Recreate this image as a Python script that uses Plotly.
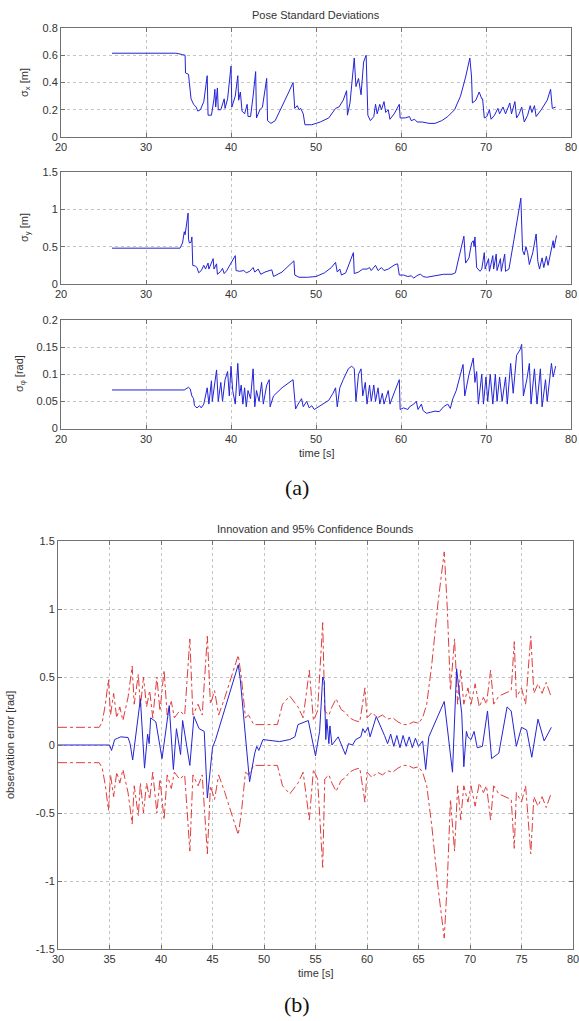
import plotly.graph_objects as go

W, H = 579, 1021

# ---------------- (a) Pose standard deviations ----------------
t_sx = [26.0, 33.5, 34.3, 34.6, 34.65, 35.0, 35.1, 35.3, 35.6, 35.9, 36.1, 36.4, 36.8, 37.2, 37.3, 37.7,
        38.0, 38.1, 38.2, 38.4, 38.5, 38.8, 39.2, 39.3, 39.6, 40.0, 40.1, 40.5, 40.8, 40.9, 41.1, 41.3,
        41.6, 41.9, 42.0, 42.3, 42.6, 42.9, 43.0, 43.4, 43.7, 44.2, 44.3, 44.7, 45.2, 46.0, 46.8, 47.3,
        47.5, 47.8, 48.0, 48.2, 48.5, 48.7, 49.5, 50.5, 51.5, 52.3, 52.7, 53.2, 53.6, 53.7, 54.0, 54.5,
        54.7, 55.0, 55.3, 55.6, 55.9, 56.1, 56.4, 56.8, 57.0, 57.2, 57.5, 57.7, 58.0, 58.2, 58.5, 58.7,
        59.2, 59.8, 59.9, 60.5, 61.0, 61.2, 61.6, 61.9, 62.5, 63.3, 64.0, 64.8, 65.5, 66.3, 67.0, 67.6,
        68.1, 68.3, 68.4, 68.8, 69.2, 69.5, 69.6, 69.8, 70.1, 70.4, 70.6, 71.0, 71.4, 71.6, 72.0, 72.3,
        72.8, 73.0, 73.4, 73.6, 73.9, 74.2, 74.5, 74.9, 75.2, 75.4, 75.7, 75.9, 76.5, 77.2, 77.6, 77.8, 78.2]
sigma_x = [0.615, 0.615, 0.605, 0.60, 0.47, 0.46, 0.40, 0.28, 0.24, 0.22, 0.19, 0.20, 0.26, 0.45, 0.16, 0.16,
           0.28, 0.35, 0.22, 0.36, 0.20, 0.20, 0.28, 0.21, 0.28, 0.52, 0.22, 0.30, 0.45, 0.27, 0.33, 0.19,
           0.17, 0.24, 0.15, 0.15, 0.30, 0.48, 0.14, 0.20, 0.22, 0.43, 0.12, 0.10, 0.12, 0.22, 0.33, 0.40,
           0.21, 0.23, 0.20, 0.21, 0.17, 0.09, 0.09, 0.11, 0.14, 0.21, 0.22, 0.27, 0.34, 0.16, 0.25, 0.58,
           0.37, 0.43, 0.31, 0.55, 0.60, 0.16, 0.12, 0.15, 0.24, 0.17, 0.24, 0.20, 0.26, 0.18, 0.20, 0.13,
           0.17, 0.24, 0.14, 0.14, 0.15, 0.12, 0.13, 0.11, 0.11, 0.10, 0.10, 0.12, 0.15, 0.20, 0.30, 0.44,
           0.58, 0.44, 0.25, 0.27, 0.33, 0.28, 0.28, 0.14, 0.15, 0.20, 0.13, 0.16, 0.21, 0.17, 0.22, 0.17,
           0.25, 0.17, 0.26, 0.14, 0.17, 0.22, 0.11, 0.16, 0.23, 0.18, 0.23, 0.15, 0.20, 0.27, 0.35, 0.21, 0.22]

t_sy = [26.0, 34.0, 34.3, 34.5, 34.6, 34.8, 34.95, 35.0, 35.1, 35.3, 35.4, 35.5, 35.8, 36.0, 36.2, 36.5,
        36.8, 37.0, 37.3, 37.4, 37.7, 37.9, 38.0, 38.3, 38.4, 38.8, 39.0, 39.2, 39.5, 40.0, 40.5, 40.6,
        41.0, 41.5, 41.8, 42.2, 42.6, 42.8, 43.2, 43.5, 44.0, 44.8, 45.0, 46.0, 47.0, 47.4, 47.5, 48.0,
        49.0, 50.0, 51.0, 51.8, 52.3, 52.5, 52.8, 53.0, 53.5, 54.0, 54.4, 54.5, 55.0, 55.5, 56.0, 56.3,
        56.5, 57.0, 57.3, 57.7, 58.0, 58.5, 59.0, 59.3, 59.6, 59.8, 60.3, 60.8, 61.2, 61.5, 62.0, 62.3,
        62.6, 63.0, 64.0, 65.0, 66.0, 66.4, 66.8, 67.2, 67.4, 67.6, 68.0, 68.3, 68.5, 68.6, 68.7, 68.9,
        69.3, 69.5, 69.8, 69.9, 70.3, 70.4, 70.8, 70.9, 71.2, 71.3, 71.7, 71.8, 72.2, 72.3, 72.7, 73.3,
        73.7, 74.1, 74.3, 74.5, 74.7, 74.9, 75.1, 75.5, 75.9, 76.1, 76.3, 76.6, 76.8, 77.1, 77.3, 77.7,
        77.9, 78.0, 78.3]
sigma_y = [0.48, 0.48, 0.55, 0.70, 0.66, 0.80, 0.95, 0.60, 0.55, 0.56, 0.63, 0.25, 0.24, 0.22, 0.15, 0.18,
           0.25, 0.20, 0.28, 0.20, 0.30, 0.34, 0.20, 0.27, 0.13, 0.17, 0.21, 0.14, 0.18, 0.28, 0.38, 0.18,
           0.17, 0.18, 0.15, 0.17, 0.22, 0.16, 0.20, 0.13, 0.16, 0.19, 0.10, 0.16, 0.26, 0.31, 0.12, 0.09,
           0.09, 0.10, 0.15, 0.22, 0.29, 0.16, 0.20, 0.12, 0.15, 0.30, 0.42, 0.14, 0.16, 0.20, 0.20, 0.22,
           0.18, 0.25, 0.18, 0.22, 0.18, 0.20, 0.24, 0.26, 0.27, 0.12, 0.12, 0.10, 0.11, 0.08, 0.12, 0.13,
           0.10, 0.09, 0.11, 0.13, 0.13, 0.15, 0.35, 0.55, 0.64, 0.28, 0.35, 0.55, 0.58, 0.50, 0.63, 0.22,
           0.17, 0.20, 0.42, 0.20, 0.34, 0.17, 0.38, 0.20, 0.40, 0.18, 0.34, 0.17, 0.40, 0.17, 0.20, 0.60,
           0.85, 1.15, 0.45, 0.39, 0.50, 0.42, 0.26, 0.42, 0.67, 0.30, 0.20, 0.35, 0.22, 0.37, 0.25, 0.45,
           0.58, 0.48, 0.65]

t_sp = [26.0, 34.5, 35.0, 35.2, 35.4, 35.6, 35.7, 36.0, 36.3, 36.5, 36.8, 37.2, 37.4, 37.7, 37.8, 38.1,
        38.3, 38.5, 38.8, 39.0, 39.3, 39.6, 39.8, 40.0, 40.2, 40.5, 40.8, 41.0, 41.2, 41.4, 41.6, 41.8,
        42.0, 42.3, 42.6, 42.8, 43.0, 43.3, 43.6, 43.8, 44.2, 44.5, 44.6, 45.0, 46.0, 47.3, 47.6, 47.9,
        48.3, 48.5, 48.9, 49.2, 49.5, 49.8, 50.5, 51.2, 51.5, 52.0, 52.3, 52.5, 52.8, 53.2, 53.8, 54.2,
        54.5, 54.7, 55.0, 55.3, 55.5, 55.8, 56.0, 56.3, 56.5, 56.8, 57.0, 57.3, 57.5, 57.8, 58.0, 58.5,
        58.7, 59.3, 59.8, 59.9, 60.3, 60.8, 61.0, 61.5, 61.8, 62.0, 62.4, 62.6, 63.0, 63.5, 64.0, 64.5,
        65.0, 65.5, 65.8, 66.1, 66.5, 67.0, 67.3, 67.5, 68.0, 68.5, 68.7, 68.9, 69.1, 69.5, 69.7, 70.0,
        70.2, 70.5, 70.8, 71.1, 71.3, 71.6, 71.9, 72.3, 72.5, 72.9, 73.2, 73.6, 74.0, 74.2, 74.4, 74.8,
        75.1, 75.3, 75.7, 76.0, 76.4, 76.6, 77.0, 77.2, 77.7, 77.9, 78.2]
sigma_phi = [0.071, 0.071, 0.076, 0.073, 0.060, 0.055, 0.042, 0.038, 0.042, 0.038, 0.045, 0.075, 0.045, 0.088, 0.050, 0.080,
             0.108, 0.050, 0.085, 0.050, 0.090, 0.105, 0.060, 0.115, 0.070, 0.045, 0.120, 0.060, 0.080, 0.045, 0.075, 0.040,
             0.070, 0.055, 0.110, 0.040, 0.070, 0.050, 0.085, 0.045, 0.080, 0.090, 0.040, 0.060, 0.075, 0.090, 0.036, 0.045,
             0.055, 0.040, 0.050, 0.038, 0.042, 0.035, 0.042, 0.050, 0.052, 0.065, 0.075, 0.040, 0.075, 0.090, 0.110, 0.115,
             0.110, 0.050, 0.100, 0.110, 0.060, 0.085, 0.045, 0.080, 0.050, 0.080, 0.050, 0.075, 0.045, 0.065, 0.045, 0.070,
             0.045, 0.070, 0.090, 0.035, 0.038, 0.035, 0.040, 0.045, 0.050, 0.035, 0.045, 0.033, 0.028, 0.030, 0.032, 0.031,
             0.040, 0.045, 0.037, 0.055, 0.070, 0.100, 0.118, 0.060, 0.100, 0.130, 0.085, 0.105, 0.045, 0.100, 0.045, 0.095,
             0.050, 0.100, 0.045, 0.100, 0.050, 0.095, 0.050, 0.095, 0.045, 0.120, 0.065, 0.135, 0.145, 0.155, 0.060, 0.090,
             0.120, 0.045, 0.110, 0.045, 0.110, 0.040, 0.090, 0.050, 0.120, 0.095, 0.115]

# ---------------- (b) Innovation and 95% confidence bounds ----------------
t_innov = [30.0, 35.0, 35.2, 35.5, 35.8, 36.1, 36.8, 37.0, 37.25, 38.0, 38.4, 38.7, 38.85, 39.0, 39.5, 40.1,
           40.8, 41.2, 41.5, 41.9, 42.1, 42.8, 43.2, 43.7, 44.2, 44.5, 45.0, 45.3, 47.5, 47.7, 48.6, 49.1,
           49.3, 49.5, 49.9, 51.5, 52.5, 53.0, 53.3, 54.3, 55.0, 55.4, 55.7, 55.85, 56.0, 56.1, 56.3, 56.4,
           56.6, 57.2, 57.9, 58.2, 58.6, 58.9, 59.4, 59.6, 59.8, 60.1, 60.3, 60.9, 61.7, 62.0, 62.3, 62.6,
           62.9, 63.2, 63.5, 63.8, 64.1, 64.4, 64.7, 65.0, 65.4, 65.7, 66.0, 67.5, 68.3, 68.7, 69.2, 69.4,
           69.65, 69.8, 70.1, 70.4, 70.7, 71.2, 71.7, 72.1, 72.8, 73.6, 74.0, 74.5, 75.0, 75.5, 76.0, 76.6,
           77.2, 77.9]
innovation = [0.0, 0.0, -0.04, 0.04, 0.05, 0.06, 0.055, 0.01, -0.11, 0.34, -0.17, 0.08, 0.01, 0.20, 0.17, -0.10,
              0.29, -0.18, 0.12, -0.07, 0.18, -0.15, 0.21, 0.12, 0.10, -0.39, -0.02, 0.04, 0.59, 0.48, -0.27, -0.06,
              -0.01, -0.04, 0.04, 0.025, 0.04, 0.06, 0.15, 0.18, -0.08, 0.10, 0.50, 0.47, 0.04, 0.19, 0.01, 0.14,
              0.00, 0.06, -0.07, 0.01, 0.00, 0.04, 0.06, 0.12, 0.09, 0.13, 0.06, 0.21, 0.07, 0.01, 0.08, -0.01,
              0.07, -0.02, 0.07, -0.01, 0.06, -0.02, 0.05, -0.01, 0.03, -0.18, 0.06, 0.32, -0.20, 0.56, 0.23, -0.16,
              0.10, 0.06, 0.04, 0.10, -0.02, -0.01, 0.25, -0.10, -0.06, 0.28, 0.25, -0.01, 0.13, 0.11, -0.09, 0.19,
              0.03, 0.13]

t_bound = [30.0, 34.0, 34.3, 34.6, 34.9, 35.1, 35.4, 35.7, 36.0, 36.3, 36.8, 37.2, 37.4, 37.8, 38.0, 38.3,
           38.6, 38.9, 39.2, 39.6, 39.9, 40.3, 40.6, 41.0, 41.3, 41.8, 42.3, 42.8, 43.1, 43.6, 44.0, 44.5,
           44.8, 45.2, 45.6, 46.2, 47.5, 47.8, 48.2, 48.5, 49.0, 51.3, 51.8, 52.5, 53.3, 53.8, 54.4, 54.8,
           55.2, 55.7, 55.9, 56.3, 56.6, 57.0, 57.5, 57.9, 58.3, 58.8, 59.3, 59.8, 60.0, 60.5, 61.0, 61.5,
           62.0, 62.5, 63.0, 63.5, 64.0, 64.5, 65.0, 65.4, 65.8, 66.3, 66.9, 67.5, 67.8, 68.1, 68.5, 68.8,
           69.1, 69.4, 69.8, 70.1, 70.5, 70.9, 71.3, 71.6, 72.0, 72.3, 72.8, 73.5, 74.0, 74.3, 74.5, 75.0,
           75.4, 75.9, 76.2, 76.6, 77.0, 77.4, 77.9]
bound_95 = [0.13, 0.13, 0.17, 0.30, 0.48, 0.22, 0.38, 0.20, 0.28, 0.18, 0.35, 0.58, 0.30, 0.52, 0.28, 0.50,
            0.28, 0.40, 0.20, 0.50, 0.25, 0.55, 0.22, 0.32, 0.20, 0.25, 0.22, 0.78, 0.22, 0.30, 0.22, 0.80,
            0.30, 0.40, 0.22, 0.35, 0.66, 0.50, 0.20, 0.22, 0.15, 0.15, 0.30, 0.36, 0.28, 0.20, 0.55, 0.18,
            0.25, 0.90, 0.25, 0.22, 0.28, 0.34, 0.26, 0.24, 0.20, 0.18, 0.17, 0.42, 0.20, 0.24, 0.20, 0.22,
            0.19, 0.20, 0.17, 0.15, 0.15, 0.17, 0.16, 0.20, 0.30, 0.60, 1.05, 1.42, 1.00, 0.40, 0.78, 0.30,
            0.55, 0.30, 0.42, 0.30, 0.45, 0.28, 0.35, 0.30, 0.55, 0.30, 0.36, 0.38, 0.40, 0.76, 0.35, 0.42,
            0.30, 0.80, 0.38, 0.45, 0.38, 0.46, 0.35]

# tick labels
xt_a = [20, 30, 40, 50, 60, 70, 80]
yt_x = [0, 0.2, 0.4, 0.6, 0.8]
yt_y = [0, 0.5, 1, 1.5]
yt_phi = [0, 0.05, 0.1, 0.15, 0.2]
xt_b = [30, 35, 40, 45, 50, 55, 60, 65, 70, 75, 80]
yt_b = [-1.5, -1, -0.5, 0, 0.5, 1, 1.5]
yt_b_text = ["-1.5", "-1", "-0.5", "0", "0.5", "1", "1.5"]

BLUE = "rgb(35,35,215)"
RED = "rgb(225,60,60)"
FONT = "Liberation Sans, Arial, Helvetica, sans-serif"


def fx(px):
    return px / W


def fy(py):
    return 1 - py / H


def axis(tickvals, ticktext, rng, domain, anchor):
    return dict(
        range=rng, domain=domain, anchor=anchor,
        tickmode="array", tickvals=tickvals, ticktext=ticktext,
        showline=True, linecolor="#707070", linewidth=1, mirror="ticks",
        ticks="inside", ticklen=4, tickcolor="#707070",
        showgrid=True, gridcolor="#c4c4c4", griddash="dot", gridwidth=1,
        zeroline=False, automargin=False, fixedrange=True,
        ticklabeloverflow="allow",
        tickfont=dict(family=FONT, size=11, color="#333333"),
    )


fig = go.Figure()
line_b = dict(color=BLUE, width=1)
fig.add_trace(go.Scatter(x=t_sx, y=sigma_x, mode="lines", line=line_b, xaxis="x", yaxis="y"))
fig.add_trace(go.Scatter(x=t_sy, y=sigma_y, mode="lines", line=line_b, xaxis="x2", yaxis="y2"))
fig.add_trace(go.Scatter(x=t_sp, y=sigma_phi, mode="lines", line=line_b, xaxis="x3", yaxis="y3"))
fig.add_trace(go.Scatter(x=t_bound, y=bound_95, mode="lines",
                         line=dict(color=RED, width=1, dash="dashdot"), xaxis="x4", yaxis="y4"))
fig.add_trace(go.Scatter(x=t_bound, y=[-b for b in bound_95], mode="lines",
                         line=dict(color=RED, width=1, dash="dashdot"), xaxis="x4", yaxis="y4"))
fig.add_trace(go.Scatter(x=t_innov, y=innovation, mode="lines", line=line_b, xaxis="x4", yaxis="y4"))

xa = [fx(61), fx(571)]
xb = [fx(58), fx(573)]
d1 = [fy(137), fy(28)]
d2 = [fy(284), fy(172)]
d3 = [fy(428.5), fy(320)]
d4 = [fy(949), fy(541)]

xa_text = [str(v) for v in xt_a]
fig.update_layout(
    width=W, height=H, margin=dict(l=0, r=0, t=0, b=0),
    paper_bgcolor="white", plot_bgcolor="white", showlegend=False,
    xaxis=axis(xt_a, xa_text, [20, 80], xa, "y"),
    yaxis=axis(yt_x, ["0", "0.2", "0.4", "0.6", "0.8"], [0, 0.8], d1, "x"),
    xaxis2=axis(xt_a, xa_text, [20, 80], xa, "y2"),
    yaxis2=axis(yt_y, ["0", "0.5", "1", "1.5"], [0, 1.5], d2, "x2"),
    xaxis3=axis(xt_a, xa_text, [20, 80], xa, "y3"),
    yaxis3=axis(yt_phi, ["0", "0.05", "0.1", "0.15", "0.2"], [0, 0.2], d3, "x3"),
    xaxis4=axis(xt_b, [str(v) for v in xt_b], [30, 80], xb, "y4"),
    yaxis4=axis(yt_b, yt_b_text, [-1.5, 1.5], d4, "x4"),
)

def ann(text, x, y, size=11, angle=0, family=FONT, color="#333333"):
    fig.add_annotation(text=text, x=fx(x), y=fy(y), xref="paper", yref="paper",
                       xanchor="center", yanchor="middle", showarrow=False, textangle=angle,
                       font=dict(family=family, size=size, color=color))

ann("Pose Standard Deviations", 316, 15)
ann("σ<sub>x</sub> [m]", 25, 83, angle=-90)
ann("σ<sub>y</sub> [m]", 25, 228, angle=-90)
ann("σ<sub>φ</sub> [rad]", 20, 374, angle=-90)
ann("time [s]", 316, 453)
ann("(a)", 297, 487, size=22, family="Liberation Serif, Times New Roman, serif", color="#111111")
ann("Innovation and 95% Confidence Bounds", 315, 529)
ann("observation error [rad]", 10, 745, angle=-90)
ann("time [s]", 315, 973)
ann("(b)", 297, 1004, size=22, family="Liberation Serif, Times New Roman, serif", color="#111111")

fig.write_html("out.html")
